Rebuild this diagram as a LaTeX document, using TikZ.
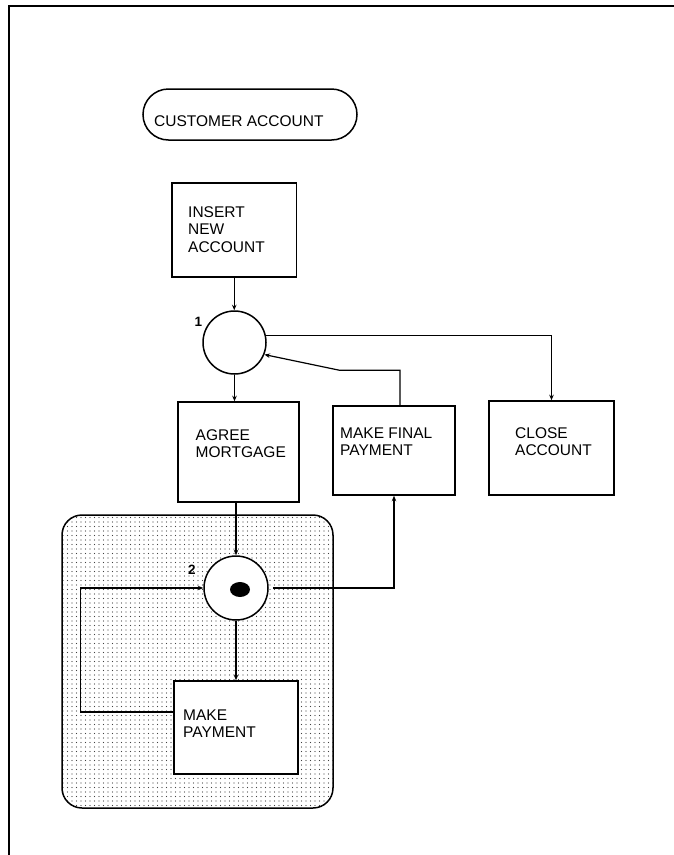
\documentclass[tikz,border=0pt]{standalone}
\usepackage{fontspec}
\setmainfont{Liberation Sans}
\usetikzlibrary{arrows.meta,positioning,calc,shapes.geometric,patterns.meta}

\begin{document}
\begin{tikzpicture}[x=1pt, y=-1pt,
  box/.style={draw, line width=1.5pt, fill=white, inner sep=0pt},
  place/.style={draw, circle, line width=1.5pt, fill=white, inner sep=0pt},
  txt/.style={inner sep=0pt, align=left, font=\fontsize{15.5}{17.5}\selectfont},
  num/.style={inner sep=0pt, font=\fontsize{13.5}{14}\selectfont\bfseries},
  flow/.style={line width=1.2pt, -{Stealth[length=5.5pt,width=4.5pt]}}]
  \useasboundingbox (0,0) rectangle (674,855);
  % frame
  \draw[line width=1.6pt] (674,6) -- (9,6) -- (9,855);
  % shaded zone
  \node[draw, line width=1.5pt, rounded corners=20pt, inner sep=0pt,
    pattern={Dots[distance=4.5pt, radius=0.6pt]}, pattern color=black!75,
    minimum width=271pt, minimum height=293pt] (zone) at (197.5,661.5) {};
  % nodes
  \node[box, rounded corners=25.5pt, minimum width=214pt, minimum height=51pt] (cust) at (250,114.5) {};
  \node[txt, anchor=base west] (custtxt) at (154,126) {CUSTOMER ACCOUNT};
  \node[box, minimum width=124.5pt, minimum height=94pt] (insert) at (234.25,230) {};
  \node[txt, anchor=north west] (inserttxt) at (188,206.3) {INSERT\\NEW\\ACCOUNT};
  \node[place, minimum size=63pt] (place1) at (234.5,342.5) {};
  \node[num] (num1) at (198.5,322) {1};
  \node[box, minimum width=121pt, minimum height=100pt] (agree) at (238.5,452) {};
  \node[txt, anchor=north west] (agreetxt) at (195.5,429.3) {AGREE\\MORTGAGE};
  \node[box, minimum width=122pt, minimum height=89pt] (final) at (394,450.5) {};
  \node[txt, anchor=north west] (finaltxt) at (340,427.3) {MAKE FINAL\\PAYMENT};
  \node[box, minimum width=125pt, minimum height=94pt] (close) at (551.5,448) {};
  \node[txt, anchor=north west] (closetxt) at (515,427.3) {CLOSE\\ACCOUNT};
  \node[place, minimum size=64pt] (place2) at (236,588) {};
  \node[num] (num2) at (192,570) {2};
  \node[ellipse, fill=black, minimum width=20pt, minimum height=15pt, inner sep=0pt] (token) at (240,589.5) {};
  \node[box, minimum width=124pt, minimum height=93pt] (pay) at (236,727.5) {};
  \node[txt, anchor=north west] (paytxt) at (183,709.3) {MAKE\\PAYMENT};
  % connectors
  \draw[flow] (insert.south) -- (insert.south |- place1.north);
  \draw[flow] (place1.south) -- (place1.south |- agree.north);
  \draw[flow] (place1.12) -| (close.north);
  \draw[flow] ([xshift=6pt]final.north) |- ++(-60.5,-35) -- (place1.-22);
  \draw[flow] (place2.north |- agree.south) -- (place2.north);
  \draw[flow, shorten <=4pt] (place2.east) -| (final.south);
  \draw[flow] (place2.south) -- (place2.south |- pay.north);
  \draw[flow] ([yshift=15.5pt]pay.west) -- ++(-93,0) |- (place2.west);
\end{tikzpicture}
\end{document}
